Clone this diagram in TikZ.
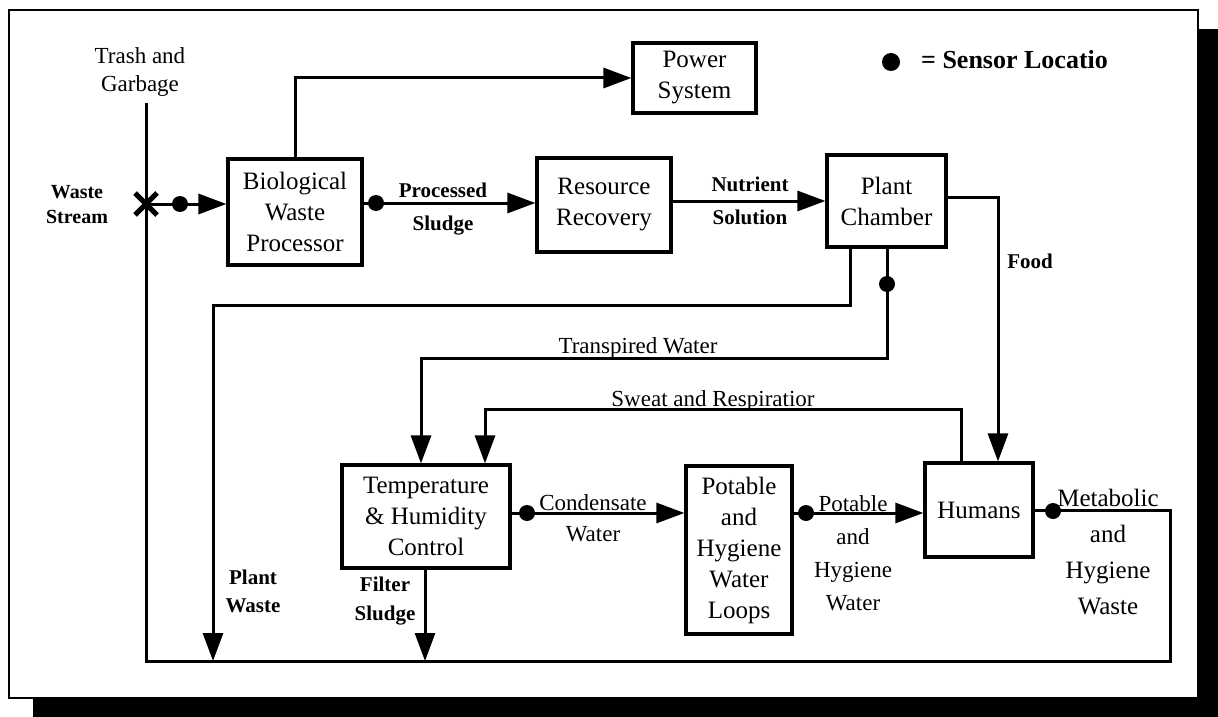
\documentclass[tikz,border=0pt]{standalone}
\usepackage{fontspec}
\setmainfont{Liberation Serif}
\usetikzlibrary{arrows.meta,calc}
\begin{document}
\begin{tikzpicture}[x=1pt,y=-1pt,
  flow/.style={line width=3pt},
  arr/.style={flow,-{Triangle[length=28pt,width=20pt]}},
  box/.style={draw,line width=3.2pt,align=center,inner sep=0pt,
     font=\fontsize{25}{31}\selectfont},
  lab/.style={align=center,inner sep=0pt,font=\fontsize{23}{33}\selectfont},
  blab/.style={align=center,inner sep=0pt,font=\bfseries\fontsize{21}{33}\selectfont},
  sensor/.style={circle,fill=black,minimum size=16pt,inner sep=0pt}]
\useasboundingbox (0,0) rectangle (1218,717);
\fill[white] (0,0) rectangle (1218,717);
% shadow and frame
\fill[black] (33,29) rectangle (1218,717);
\draw[line width=2pt,fill=white] (9,10) rectangle (1198,698);

% boxes
\node[box,minimum width=134pt,minimum height=106pt] (bio) at (295,212) {Biological\\Waste\\Processor};
\node[box,minimum width=123pt,minimum height=70pt] (pow) at (694.5,78) {Power\\System};
\node[box,minimum width=134pt,minimum height=94pt] (rr) at (604,205) {Resource\\Recovery};
\node[box,minimum width=119pt,minimum height=92pt] (pc) at (886.5,201) {Plant\\Chamber};
\node[box,minimum width=168pt,minimum height=103pt] (th) at (426,516.5) {Temperature\\\&\ Humidity\\Control};
\node[box,minimum width=106pt,minimum height=168pt] (ph) at (739,550) {Potable\\and\\Hygiene\\Water\\Loops};
\node[box,minimum width=108pt,minimum height=94pt] (hum) at (979,510) {Humans};

% legend
\node[sensor,minimum size=18pt] (leg) at (891,62) {};
\node[anchor=west,inner sep=0pt,font=\bfseries\fontsize{26}{30}\selectfont] (legt) at (921,60) {= Sensor Locatio};

% coordinates
\coordinate (trtop) at (146,103);
\coordinate (xm) at (146,204);
\coordinate (bl) at (146,661);
\coordinate (br) at (1170,661);

% trash line and bottom collector
\draw[flow] (trtop) -- (bl) -- (br) -- (br |- hum.east) -- (hum.east);
% X mark
\draw[line width=5pt] ($(xm)+(-11,-11)$) -- ($(xm)+(11,11)$);
\draw[line width=5pt] ($(xm)+(-11,11)$) -- ($(xm)+(11,-11)$);

% waste stream to bio
\draw[arr] (xm) -- (bio.west |- xm);
\node[sensor] (s1) at (180,204) {};

% bio to power
\draw[arr] (bio.north) -- (bio.north |- pow.west) -- (pow.west);

% bio to RR
\coordinate (ps) at (443,203);
\draw[arr] (bio.east |- ps) -- (rr.west |- ps);
\node[sensor] (s2) at (376,203) {};

% RR to plant chamber
\coordinate (ns) at (750,201);
\draw[arr] (rr.east |- ns) -- (pc.west |- ns);

% food
\coordinate (fd) at (998,197);
\draw[arr] (pc.east |- fd) -- (fd) -- (hum.north -| fd);

% plant waste
\coordinate (pw1) at (850,305);
\coordinate (pw2) at (213,305);
\draw[arr] (pc.south -| pw1) -- (pw1) -- (pw2) -- (pw2 |- bl);

% transpired water
\coordinate (tw1) at (887,358);
\coordinate (tw2) at (421,358);
\draw[arr] (pc.south -| tw1) -- (tw1) -- (tw2) -- (th.north -| tw2);
\node[sensor] (s3) at (887,284) {};

% sweat and respiration
\coordinate (sw1) at (961,409);
\coordinate (sw2) at (485,409);
\draw[arr] (hum.north -| sw1) -- (sw1) -- (sw2) -- (th.north -| sw2);

% filter sludge
\coordinate (fs) at (425,661);
\draw[arr] (th.south -| fs) -- (fs);

% condensate
\coordinate (cw) at (593,513);
\draw[arr] (th.east |- cw) -- (ph.west |- cw);
\node[sensor] (s4) at (527,513) {};

% potable water
\coordinate (pwat) at (853,513);
\draw[arr] (ph.east |- pwat) -- (hum.west |- pwat);
\node[sensor] (s5) at (806,513) {};

% metabolic dot
\node[sensor] (s6) at (1053,511) {};

% labels
\node[lab,font=\fontsize{23}{28}\selectfont] (ltr) at (140,72) {Trash and\\Garbage};
\node[blab,font=\bfseries\fontsize{20}{25}\selectfont] (lws) at (77,205) {Waste\\Stream};
\node[blab] (lps) at (443,209) {Processed\\Sludge};
\node[blab] (lns) at (750,201) {Nutrient\\Solution};
\node[blab] (lfd) at (1030,261) {Food};
\node[lab] (ltw) at (638,348) {Transpired Water};
\node[lab] (lsw) at (713,401) {Sweat and Respiratior};
\node[blab,font=\bfseries\fontsize{21}{28}\selectfont] (lpw) at (253,591) {Plant\\Waste};
\node[blab,font=\bfseries\fontsize{21}{29}\selectfont] (lfs) at (385,601) {Filter\\Sludge};
\node[lab,font=\fontsize{23}{31}\selectfont] (lcw) at (593,518) {Condensate\\Water};
\node[lab,font=\fontsize{23}{33}\selectfont] (lpo) at (853,553) {Potable\\and\\Hygiene\\Water};
\node[lab,font=\fontsize{25}{36}\selectfont] (lmh) at (1108,552) {Metabolic\\and\\Hygiene\\Waste};
\end{tikzpicture}
\end{document}
